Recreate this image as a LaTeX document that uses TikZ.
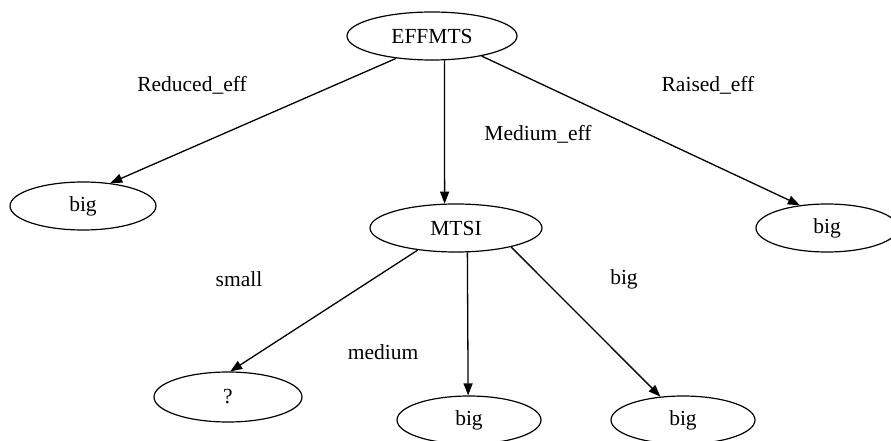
\documentclass[tikz,border=0pt]{standalone}
\usepackage{fontspec}
\setmainfont{Liberation Serif}
\usetikzlibrary{shapes.geometric,arrows.meta}
\begin{document}
\begin{tikzpicture}[x=1bp,y=-1bp,
  every node/.style={font=\fontsize{21.5bp}{24bp}\selectfont},
  nodebox/.style={ellipse,draw,line width=1.2bp,inner sep=0pt,minimum height=48bp},
  lbl/.style={inner sep=0pt},
  edge/.style={line width=1.3bp,-{Triangle[length=12bp,width=9bp]}}]
\useasboundingbox (0,0) rectangle (891,441);
\clip (0,0) rectangle (891,441);
\node[nodebox,minimum width=170bp] (A) at (432,36) {EFFMTS};
\node[nodebox,minimum width=146bp] (B) at (83,206) {big};
\node[nodebox,minimum width=172bp] (C) at (456,228) {MTSI};
\node[nodebox,minimum width=142bp] (D) at (827,228) {big};
\node[nodebox,minimum width=148bp,minimum height=50bp] (E) at (228,397) {?};
\node[nodebox,minimum width=144bp] (F) at (469,420) {big};
\node[nodebox,minimum width=144bp] (G) at (683,420) {big};
\node[lbl] (l1) at (192,85) {Reduced\_eff};
\node[lbl] (l2) at (538,134) {Medium\_eff};
\node[lbl] (l3) at (708,85) {Raised\_eff};
\node[lbl] (l4) at (239,279) {small};
\node[lbl] (l5) at (383,352) {medium};
\node[lbl] (l6) at (624,279) {big};
\draw[edge] (A.212) -- (B.40);
\draw[edge] (A.297) -- (C.115);
\draw[edge] (A.338) -- (D.140);
\draw[edge] (C.210) -- (E.85);
\draw[edge] (C.295) -- (F.92);
\draw[edge] (C.341) -- (G.134);
\end{tikzpicture}
\end{document}
